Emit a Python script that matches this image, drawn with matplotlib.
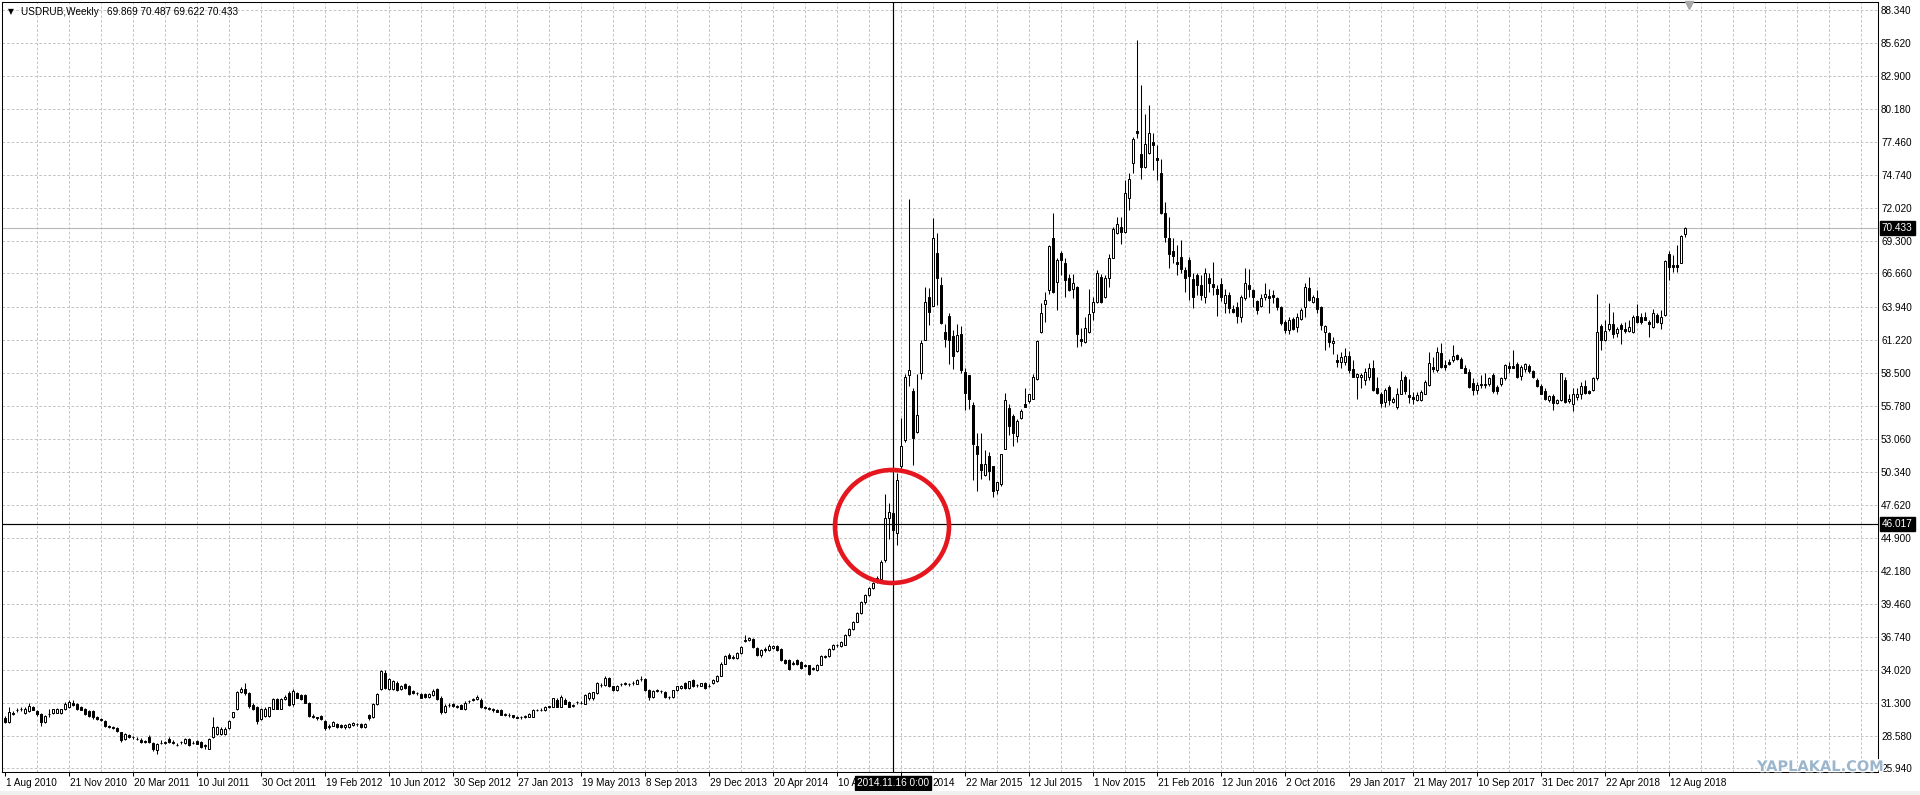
import numpy as np
import matplotlib
matplotlib.use("Agg")
import matplotlib.pyplot as plt
import matplotlib.transforms as mtransforms
import matplotlib.patheffects as pe
from matplotlib.patches import Ellipse, Rectangle

# ---------------- data (weekly USDRUB candles) ----------------
symbol_title = "USDRUB,Weekly"
header_ohlc = "69.869 70.487 69.622 70.433"

opens = [
    30.10, 29.75, 30.45, 30.70, 30.78, 30.48, 30.67, 30.95, 30.67, 30.40,
    29.72, 30.38, 30.48, 30.50, 30.45, 30.81, 30.95, 31.35, 31.22, 30.95,
    30.81, 30.67, 30.67, 30.13, 30.00, 29.86, 29.40, 29.32, 29.23, 28.90,
    28.36, 28.69, 28.52, 28.38, 28.30, 28.20, 28.50, 28.04, 27.41, 28.02,
    28.06, 28.36, 28.14, 27.88, 28.08, 28.04, 28.36, 28.02, 28.20, 28.09,
    27.80, 27.55, 28.50, 28.77, 28.77, 28.77, 29.23, 30.13, 30.81, 32.22,
    32.50, 32.12, 31.14, 30.95, 29.99, 30.27, 30.27, 30.86, 31.63, 30.86,
    31.63, 32.17, 31.22, 32.12, 31.95, 31.95, 31.35, 30.22, 30.13, 30.27,
    29.86, 29.32, 29.45, 29.60, 29.50, 29.32, 29.32, 29.50, 29.57, 29.59,
    29.32, 30.32, 30.13, 31.22, 32.44, 33.80, 32.44, 32.44, 32.98, 32.44,
    32.85, 32.71, 32.30, 32.14, 32.03, 32.03, 31.84, 31.95, 32.44, 31.76,
    30.54, 31.12, 31.22, 31.00, 31.14, 30.81, 31.47, 31.60, 31.63, 31.60,
    31.00, 30.90, 30.80, 30.72, 30.75, 30.34, 30.36, 30.30, 30.15, 30.14,
    30.18, 30.20, 30.20, 30.74, 30.76, 30.70, 31.00, 31.00, 31.60, 31.00,
    31.60, 31.40, 31.08, 31.38, 31.30, 31.25, 31.70, 31.70, 32.13, 32.78,
    32.80, 33.37, 32.68, 32.35, 32.88, 32.90, 32.88, 32.92, 32.90, 33.26,
    33.28, 32.35, 31.80, 32.33, 32.30, 32.20, 31.80, 31.80, 32.35, 32.54,
    32.95, 32.54, 33.17, 32.80, 32.74, 32.95, 32.72, 32.95, 33.10, 33.56,
    34.55, 35.30, 35.05, 35.00, 35.40, 36.45, 36.48, 36.60, 35.85, 35.30,
    35.76, 35.65, 35.85, 36.04, 35.76, 34.88, 34.83, 34.55, 34.88, 34.70,
    34.38, 34.40, 34.15, 34.00, 34.47, 35.14, 35.16, 35.76, 36.06, 36.00,
    36.10, 36.90, 37.40, 38.00, 38.70, 39.60, 40.20, 40.80, 41.40, 41.55,
    43.05, 46.50, 46.98, 45.33, 50.80, 52.94, 58.30, 57.00, 53.60, 58.50,
    61.20, 64.70, 63.97, 68.36, 65.70, 61.85, 63.20, 61.50, 60.30, 61.66,
    58.56, 58.30, 55.80, 52.50, 50.96, 50.10, 51.67, 50.80, 48.87, 49.30,
    52.25, 55.60, 54.94, 53.27, 54.80, 55.90, 56.20, 56.36, 58.00, 61.85,
    64.13, 65.30, 69.60, 65.97, 68.36, 67.50, 66.25, 65.40, 65.56, 61.30,
    61.03, 61.85, 63.50, 64.30, 66.40, 64.70, 66.30, 67.97, 70.00, 70.50,
    70.10, 72.84, 75.77, 78.38, 76.50, 75.40, 76.54, 77.45, 76.18, 74.90,
    71.65, 69.54, 68.50, 67.60, 67.98, 66.93, 67.76, 66.17, 66.50, 65.70,
    64.74, 66.25, 65.80, 65.40, 65.78, 64.25, 64.88, 63.70, 63.90, 63.10,
    64.60, 65.70, 65.30, 64.40, 63.97, 64.74, 64.80, 64.88, 64.60, 63.90,
    62.68, 62.00, 62.95, 62.27, 62.95, 63.90, 65.50, 64.33, 64.60, 63.86,
    61.86, 61.72, 60.90, 59.53, 59.39, 59.39, 59.86, 58.76, 58.16, 58.10,
    57.88, 58.10, 58.90, 57.20, 56.78, 56.10, 57.33, 56.10, 55.68, 56.78,
    58.16, 56.64, 56.50, 56.23, 56.23, 56.78, 57.47, 58.98, 58.70, 60.13,
    59.12, 59.39, 59.53, 59.94, 59.66, 58.90, 58.57, 57.66, 57.06, 57.55,
    57.55, 57.55, 58.30, 57.33, 57.55, 58.02, 59.03, 59.03, 59.20, 58.20,
    58.76, 59.03, 58.65, 57.93, 57.40, 57.00, 56.23, 56.56, 56.00, 56.23,
    57.93, 56.17, 55.90, 56.50, 56.78, 57.40, 57.00, 57.06, 58.02, 62.33,
    61.17, 62.05, 62.49, 61.72, 62.41, 62.05, 61.94, 61.86, 63.15, 63.09,
    63.04, 62.68, 62.27, 63.23, 62.60, 63.23, 68.25, 67.35, 67.35, 67.54, 69.869,
]

highs = [
    30.25, 30.95, 30.65, 30.90, 30.95, 31.00, 31.30, 31.10, 30.75, 30.45,
    30.35, 30.80, 30.85, 30.90, 30.85, 31.40, 31.57, 31.55, 31.30, 31.05,
    30.90, 30.75, 30.72, 30.25, 30.10, 29.95, 29.50, 29.45, 29.30, 28.95,
    28.85, 28.80, 28.62, 28.50, 28.40, 28.30, 28.64, 28.10, 28.00, 28.25,
    28.20, 28.55, 28.25, 28.00, 28.20, 28.45, 28.45, 28.15, 28.30, 28.15,
    27.90, 28.40, 30.20, 29.40, 29.30, 29.30, 29.95, 30.60, 32.30, 32.60,
    32.93, 32.25, 31.30, 31.05, 30.90, 30.95, 31.00, 31.70, 31.75, 31.75,
    31.95, 32.30, 32.45, 32.25, 32.05, 32.05, 31.40, 30.40, 30.20, 30.35,
    29.95, 29.55, 29.80, 29.70, 29.60, 29.55, 29.65, 29.75, 29.70, 29.65,
    29.70, 30.40, 31.30, 32.10, 34.07, 34.02, 33.35, 33.20, 33.10, 32.80,
    32.95, 32.80, 32.40, 32.25, 32.10, 32.15, 32.10, 32.50, 32.55, 31.85,
    31.20, 31.30, 31.30, 31.15, 31.25, 31.45, 31.60, 31.75, 31.95, 31.70,
    31.10, 31.00, 30.90, 30.85, 30.80, 30.45, 30.45, 30.35, 30.25, 30.25,
    30.30, 30.45, 30.85, 30.85, 30.90, 31.05, 31.10, 31.75, 31.70, 31.98,
    31.70, 31.45, 31.20, 31.50, 31.45, 32.05, 32.20, 32.25, 33.05, 32.95,
    33.50, 33.45, 32.75, 32.80, 33.00, 33.05, 33.00, 33.10, 33.25, 33.55,
    33.35, 32.45, 32.35, 32.45, 32.40, 32.30, 31.90, 32.40, 32.75, 32.80,
    33.05, 33.15, 33.25, 32.90, 33.00, 33.05, 32.85, 33.25, 33.65, 34.65,
    35.30, 35.40, 35.25, 35.50, 36.00, 36.95, 36.75, 36.70, 35.95, 35.75,
    35.90, 36.15, 36.10, 36.10, 35.85, 34.95, 34.90, 34.75, 34.95, 34.80,
    34.50, 34.45, 34.30, 34.55, 35.25, 35.30, 35.85, 36.20, 36.20, 36.40,
    37.00, 37.50, 38.10, 38.80, 39.70, 40.30, 40.90, 41.30, 41.80, 43.05,
    48.50, 47.80, 47.80, 50.20, 54.80, 58.40, 72.78, 57.20, 58.40, 61.20,
    65.56, 65.50, 71.20, 69.95, 66.40, 62.50, 63.40, 62.00, 62.50, 62.30,
    58.84, 58.30, 56.09, 53.57, 53.57, 52.10, 51.97, 50.85, 49.50, 51.80,
    56.80, 55.90, 55.10, 54.70, 55.50, 57.20, 56.75, 58.40, 61.20, 64.20,
    65.10, 68.99, 71.60, 67.90, 68.50, 67.90, 66.60, 66.60, 65.62, 62.20,
    63.09, 65.40, 64.70, 66.93, 66.60, 66.50, 68.30, 70.50, 71.30, 71.30,
    74.34, 74.95, 77.90, 85.87, 82.20, 79.78, 80.50, 78.20, 77.20, 76.10,
    72.56, 71.33, 69.54, 69.00, 69.40, 67.20, 68.00, 66.70, 66.70, 66.50,
    67.15, 66.70, 67.62, 65.75, 66.25, 65.35, 65.15, 64.05, 64.35, 64.88,
    67.07, 67.00, 65.42, 64.45, 65.00, 65.84, 65.40, 65.30, 64.74, 63.97,
    62.82, 63.04, 63.09, 63.37, 63.78, 65.84, 66.40, 64.90, 65.30, 63.97,
    62.41, 61.86, 61.45, 60.07, 60.20, 60.49, 60.30, 59.53, 58.43, 58.43,
    58.92, 59.30, 59.50, 58.16, 56.92, 57.20, 57.47, 56.50, 57.20, 58.65,
    58.30, 57.99, 56.92, 56.92, 57.06, 57.88, 60.20, 59.80, 60.62, 60.96,
    59.53, 59.66, 60.76, 60.07, 59.80, 59.12, 58.76, 58.02, 57.74, 58.29,
    58.43, 58.16, 58.43, 57.47, 58.16, 59.25, 59.39, 60.35, 59.39, 59.12,
    59.30, 59.20, 58.70, 58.02, 57.55, 57.20, 56.64, 56.78, 56.37, 58.48,
    58.10, 56.78, 57.27, 57.20, 57.74, 57.88, 57.06, 58.16, 64.93, 62.49,
    62.87, 64.19, 63.50, 62.27, 62.55, 62.68, 62.82, 63.23, 64.14, 63.37,
    63.50, 62.82, 63.70, 63.42, 63.64, 67.76, 68.53, 68.17, 68.99, 69.82, 70.487,
]

lows = [
    29.65, 29.70, 30.30, 30.60, 30.65, 30.40, 30.60, 30.70, 30.27, 29.45,
    29.65, 30.15, 30.40, 30.45, 30.40, 30.75, 30.90, 31.05, 30.75, 30.70,
    30.30, 30.20, 29.99, 29.90, 29.80, 29.35, 29.25, 29.15, 28.95, 28.10,
    28.25, 28.40, 28.38, 28.25, 28.05, 28.00, 28.00, 27.40, 27.14, 27.90,
    27.95, 28.05, 27.95, 27.75, 27.95, 27.95, 27.80, 27.90, 27.90, 27.60,
    27.55, 27.50, 28.45, 28.70, 28.70, 28.70, 29.15, 30.05, 30.75, 32.10,
    32.00, 30.90, 30.70, 29.60, 29.90, 30.20, 30.15, 30.80, 30.80, 30.80,
    31.55, 31.05, 31.10, 31.70, 31.55, 31.30, 30.15, 30.05, 29.90, 29.90,
    29.10, 29.15, 29.40, 29.25, 29.25, 29.20, 29.25, 29.45, 29.45, 29.25,
    29.25, 29.95, 30.05, 31.15, 32.40, 32.50, 32.35, 32.35, 32.30, 32.35,
    32.50, 31.95, 32.05, 32.00, 31.70, 31.75, 31.75, 31.90, 31.60, 30.40,
    30.45, 30.98, 30.95, 30.90, 30.80, 30.75, 31.35, 31.50, 31.55, 30.90,
    30.80, 30.70, 30.55, 30.55, 30.30, 30.25, 30.20, 30.05, 30.05, 30.02,
    30.05, 30.15, 30.15, 30.65, 30.62, 30.62, 30.90, 30.95, 30.95, 30.95,
    31.20, 30.95, 30.95, 31.25, 31.20, 31.20, 31.60, 31.60, 32.05, 32.60,
    32.75, 32.65, 32.30, 32.30, 32.75, 32.80, 32.75, 32.80, 32.85, 33.15,
    32.30, 31.60, 31.75, 32.20, 32.15, 31.75, 31.65, 31.75, 32.30, 32.50,
    32.50, 32.50, 32.60, 32.65, 32.70, 32.50, 32.60, 32.90, 33.05, 33.50,
    34.50, 34.90, 34.95, 34.95, 35.35, 36.30, 36.40, 35.80, 35.20, 35.10,
    35.55, 35.60, 35.75, 35.60, 34.80, 34.50, 34.05, 34.45, 34.45, 34.15,
    34.25, 33.65, 34.05, 33.95, 34.40, 35.00, 35.10, 35.70, 35.95, 35.95,
    36.05, 36.85, 37.35, 37.95, 38.65, 39.50, 40.10, 40.70, 41.20, 41.45,
    42.90, 44.84, 45.00, 44.29, 50.46, 52.80, 57.40, 50.90, 53.50, 58.00,
    61.20, 62.40, 63.97, 64.05, 62.50, 60.60, 59.25, 58.80, 60.20, 58.50,
    55.46, 55.54, 49.70, 48.76, 49.78, 50.00, 49.64, 48.30, 48.54, 49.15,
    52.25, 53.35, 52.50, 52.80, 54.70, 55.65, 56.00, 56.30, 57.90, 61.80,
    62.70, 65.00, 65.05, 63.64, 66.52, 64.70, 65.20, 64.60, 60.60, 60.70,
    60.95, 61.75, 62.80, 64.20, 64.20, 64.60, 65.56, 67.90, 69.90, 69.07,
    70.00, 71.90, 74.90, 77.80, 74.40, 75.35, 76.50, 75.17, 74.35, 71.55,
    69.27, 67.07, 67.48, 66.50, 66.70, 65.15, 64.46, 63.83, 64.90, 64.46,
    64.20, 65.15, 64.90, 63.20, 64.40, 63.37, 63.37, 63.37, 62.55, 62.68,
    64.45, 64.74, 63.90, 63.30, 63.90, 64.45, 63.40, 64.20, 63.64, 62.40,
    61.72, 61.66, 61.99, 61.86, 62.86, 63.10, 64.40, 64.25, 63.37, 62.00,
    60.35, 60.60, 60.07, 58.98, 58.84, 59.12, 58.48, 58.16, 56.37, 57.20,
    57.47, 57.88, 57.00, 56.78, 55.68, 55.68, 55.82, 56.02, 55.54, 56.72,
    56.78, 56.00, 55.90, 56.17, 56.17, 56.72, 57.40, 58.57, 58.57, 58.90,
    58.70, 59.12, 59.39, 59.53, 58.84, 58.43, 57.27, 56.64, 56.78, 57.20,
    57.20, 57.40, 56.84, 56.78, 57.40, 57.88, 58.43, 58.84, 58.02, 57.93,
    58.57, 58.48, 58.02, 57.33, 56.72, 56.23, 56.10, 55.41, 55.90, 56.17,
    56.02, 56.02, 55.36, 56.23, 56.37, 56.78, 56.78, 57.00, 57.93, 60.35,
    61.12, 61.94, 61.31, 61.45, 60.84, 61.72, 61.86, 61.78, 62.60, 62.49,
    62.82, 61.45, 62.21, 62.55, 62.05, 63.15, 66.11, 66.80, 66.80, 67.48, 69.622,
]

closes = [
    29.75, 30.55, 30.40, 30.76, 30.80, 30.80, 31.08, 30.76, 30.40, 29.72,
    30.27, 30.42, 30.81, 30.78, 30.78, 31.22, 31.41, 31.14, 30.81, 30.76,
    30.40, 30.27, 30.13, 29.99, 29.88, 29.40, 29.32, 29.23, 29.04, 28.23,
    28.77, 28.50, 28.48, 28.36, 28.14, 28.09, 28.09, 27.55, 27.96, 28.04,
    28.09, 28.14, 28.04, 27.87, 28.09, 28.36, 27.87, 28.04, 27.96, 27.68,
    27.82, 28.36, 29.32, 29.32, 29.18, 29.18, 29.86, 30.54, 32.22, 32.44,
    32.12, 31.03, 30.81, 29.86, 30.81, 30.81, 30.95, 31.63, 30.86, 31.68,
    31.84, 31.14, 32.30, 31.76, 31.63, 31.35, 30.27, 30.18, 30.09, 29.99,
    29.23, 29.45, 29.72, 29.32, 29.32, 29.50, 29.59, 29.67, 29.59, 29.32,
    29.59, 30.05, 31.22, 32.03, 33.94, 32.58, 33.26, 33.12, 32.39, 32.71,
    32.58, 32.03, 32.12, 32.12, 31.76, 31.84, 32.03, 32.30, 31.68, 30.54,
    31.08, 31.14, 31.03, 31.03, 30.86, 31.35, 31.49, 31.63, 31.84, 31.00,
    30.90, 30.80, 30.70, 30.60, 30.34, 30.36, 30.30, 30.15, 30.14, 30.15,
    30.20, 30.40, 30.75, 30.76, 30.75, 31.00, 31.02, 31.70, 31.00, 31.80,
    31.25, 31.00, 31.10, 31.40, 31.32, 32.00, 32.10, 32.18, 32.95, 32.80,
    33.37, 32.74, 32.35, 32.74, 32.90, 32.92, 32.90, 32.95, 33.20, 33.28,
    32.40, 31.80, 32.27, 32.35, 32.27, 31.80, 31.82, 32.35, 32.68, 32.74,
    32.54, 33.10, 32.68, 32.82, 32.95, 32.54, 32.74, 33.17, 33.56, 34.55,
    35.20, 35.00, 35.10, 35.40, 35.90, 36.50, 36.67, 35.90, 35.30, 35.65,
    35.65, 36.04, 36.04, 35.70, 34.88, 34.60, 34.10, 34.60, 34.55, 34.20,
    34.40, 33.70, 34.20, 34.47, 35.16, 35.18, 35.76, 36.12, 36.08, 36.30,
    36.90, 37.40, 38.00, 38.70, 39.60, 40.20, 40.80, 41.20, 41.60, 42.92,
    46.57, 47.00, 45.58, 49.70, 52.50, 58.10, 58.70, 53.15, 55.00, 60.90,
    64.30, 63.50, 69.54, 66.25, 62.60, 61.30, 61.20, 59.90, 61.60, 58.70,
    56.86, 56.30, 52.66, 51.80, 50.52, 50.96, 50.40, 48.76, 49.50, 51.80,
    56.23, 54.10, 53.57, 54.50, 55.35, 55.70, 56.70, 58.10, 61.10, 63.40,
    64.50, 68.90, 65.10, 67.80, 67.75, 66.10, 65.30, 65.84, 61.66, 61.10,
    62.20, 63.36, 64.30, 66.70, 64.30, 66.30, 67.97, 70.28, 70.77, 70.10,
    73.30, 74.40, 77.70, 78.19, 75.40, 77.30, 78.20, 77.23, 76.00, 71.65,
    69.67, 68.30, 68.10, 67.40, 66.99, 66.25, 66.44, 64.70, 65.70, 64.90,
    66.66, 65.90, 65.56, 64.96, 64.74, 64.88, 63.78, 63.50, 63.20, 64.74,
    65.90, 65.40, 64.74, 63.64, 64.60, 65.00, 64.60, 64.74, 63.90, 62.55,
    62.00, 62.87, 62.13, 63.04, 63.64, 65.56, 64.50, 64.74, 63.70, 62.40,
    62.33, 61.03, 61.10, 59.39, 59.80, 59.86, 58.70, 58.16, 58.37, 58.30,
    58.57, 58.90, 57.06, 56.84, 56.00, 57.10, 56.23, 56.37, 56.70, 57.88,
    57.00, 56.50, 56.37, 56.64, 56.92, 57.74, 59.30, 58.76, 60.21, 58.98,
    58.98, 59.25, 59.86, 59.66, 58.90, 58.48, 57.33, 57.06, 57.47, 57.47,
    57.47, 58.02, 57.00, 57.00, 58.02, 59.10, 58.90, 58.90, 58.16, 58.98,
    59.20, 58.65, 58.16, 57.40, 56.78, 56.37, 56.56, 56.00, 56.23, 58.43,
    56.10, 56.37, 56.78, 56.70, 57.40, 56.84, 56.84, 58.02, 61.86, 61.17,
    61.94, 62.49, 61.67, 62.13, 62.13, 61.94, 62.27, 63.04, 62.68, 62.68,
    62.87, 62.49, 63.42, 62.68, 63.10, 67.70, 67.16, 67.16, 67.22, 69.73, 70.433,
]

# date labels every 16 bars; two of them are partly hidden by the crosshair box,
# so only their visible parts are written
x_labels = ["1 Aug 2010", "21 Nov 2010", "20 Mar 2011", "10 Jul 2011", "30 Oct 2011",
            "19 Feb 2012", "10 Jun 2012", "30 Sep 2012", "27 Jan 2013", "19 May 2013",
            "8 Sep 2013", "29 Dec 2013", "20 Apr 2014", "10 A", "2014",
            "22 Mar 2015", "12 Jul 2015", "1 Nov 2015", "21 Feb 2016", "12 Jun 2016",
            "2 Oct 2016", "29 Jan 2017", "21 May 2017", "10 Sep 2017", "31 Dec 2017",
            "22 Apr 2018", "12 Aug 2018"]
y_ticks = [88.34, 85.62, 82.90, 80.18, 77.46, 74.74, 72.02, 69.30, 66.66, 63.94,
           61.22, 58.50, 55.78, 53.06, 50.34, 47.62, 44.90, 42.18, 39.46, 36.74,
           34.02, 31.30, 28.58, 25.94]
crosshair_bar = 222
crosshair_price = 46.017
crosshair_time = "2014.11.16 0:00"
bid_price = 70.433

# ---------------- figure ----------------
W, H = 1920, 795
fig = plt.figure(figsize=(W / 100, H / 100), dpi=100)
fig.patch.set_facecolor("white")

def px_rect(x0, y0, x1, y1):
    return [x0 / W, 1 - y1 / H, (x1 - x0) / W, (y1 - y0) / H]

ax = fig.add_axes(px_rect(2, 2, 1878, 772))
ax.set_facecolor("white")
ax.set_xlim(-0.75, 468.25)
ax.set_ylim(25.636, 88.998)

FONT = ["Liberation Sans", "DejaVu Sans"]
FS = 7.2

# grid
gkw = dict(color="#c4c4c4", lw=0.72, linestyle=(0, (2.6, 2.0)), zorder=0)
for v in y_ticks:
    ax.axhline(v, **gkw)
for b in range(8, 469, 8):
    ax.axvline(b, **gkw)

# bid line
ax.axhline(bid_price, color="#b8b8b8", lw=0.8, zorder=1)

# candles
o = np.array(opens); h = np.array(highs); l = np.array(lows); c = np.array(closes)
xs = np.arange(len(c))
up = c >= o
ax.vlines(xs, l, h, color="black", lw=0.75, zorder=2)
body = np.where(np.abs(c - o) < 0.03, 0.03 * np.sign(c - o + 1e-9), c - o)
ax.bar(xs, body, bottom=o, width=0.5, color=np.where(up, "white", "black"),
       edgecolor="black", linewidth=0.72, zorder=3)

# crosshair
ax.axvline(crosshair_bar, color="black", lw=0.85, zorder=4)
ax.axhline(crosshair_price, color="black", lw=0.85, zorder=4)

# red circle annotation
ax.add_patch(Ellipse((221.75, 45.84), 28.5, 9.3, fill=False,
                     edgecolor="#e5161d", lw=3.3, zorder=6))

# spines
for s in ax.spines.values():
    s.set_color("black"); s.set_linewidth(0.75)

# y axis on right
ax.yaxis.tick_right()
ax.set_yticks(y_ticks)
ax.set_yticklabels([f"{v:.3f}" for v in y_ticks], fontsize=FS, family=FONT)
ax.tick_params(axis="y", length=0, pad=2.2)

# x axis ticks + labels
label_bars = [16 * k for k in range(len(x_labels))]
ax.set_xticks(label_bars)
ax.set_xticklabels([""] * len(label_bars))
ax.tick_params(axis="x", length=3, width=0.75, direction="out", color="black")
btrans = mtransforms.blended_transform_factory(ax.transData, ax.transAxes)
lab_trans = mtransforms.offset_copy(btrans, fig=fig, x=1.5, y=-11, units="dots")
tail_trans = mtransforms.offset_copy(btrans, fig=fig, x=31, y=-11, units="dots")
for b, t in zip(label_bars, x_labels):
    tr = tail_trans if t == "2014" else lab_trans
    ax.text(b, 0, t, transform=tr, ha="left", va="center",
            fontsize=FS, family=FONT, color="black", clip_on=False)

# crosshair time label
ct = mtransforms.offset_copy(btrans, fig=fig, x=0, y=-11, units="dots")
ax.text(crosshair_bar, 0, crosshair_time, transform=ct, ha="center", va="center",
        fontsize=FS, family=FONT, color="white", zorder=10, clip_on=False,
        bbox=dict(boxstyle="square,pad=0.22", facecolor="black", edgecolor="black"))

# price boxes on right
for price in (bid_price, crosshair_price):
    ax.annotate(f"{price:.3f}", xy=(1, price), xycoords=("axes fraction", "data"),
                xytext=(4, 0), textcoords="offset pixels", ha="left", va="center",
                fontsize=FS, family=FONT, color="white", zorder=10, annotation_clip=False,
                bbox=dict(boxstyle="square,pad=0.2", facecolor="black", edgecolor="black"))

# shift marker at top
tri_t = mtransforms.blended_transform_factory(ax.transData, ax.transAxes)
ax.plot([421], [0.9965], marker="v", markersize=5.5, color="#a8a8a8",
        transform=tri_t, clip_on=False, zorder=5)

# header text
fig.text(8 / W, 1 - 12 / H, "\u25BC", fontsize=5.5, family=["DejaVu Sans"],
         va="center", ha="left", color="black")
fig.text(21 / W, 1 - 12 / H, symbol_title + "   " + header_ohlc, fontsize=FS,
         family=FONT, va="center", ha="left", color="black")

# bottom strip
fig.patches.append(Rectangle((0, 0), 1, 4 / H, transform=fig.transFigure,
                             facecolor="#f0f0f0", edgecolor="none", zorder=0))

# watermark
fig.text(1757 / W, 1 - 766.5 / H, "YAPLAKAL.COM", fontsize=10.5, fontweight="bold",
         family=["DejaVu Sans"], color="#9bb6cc", va="center", ha="left", zorder=20,
         path_effects=[pe.withStroke(linewidth=2, foreground="white")])

fig.savefig("out.png", dpi=100, facecolor="white")
